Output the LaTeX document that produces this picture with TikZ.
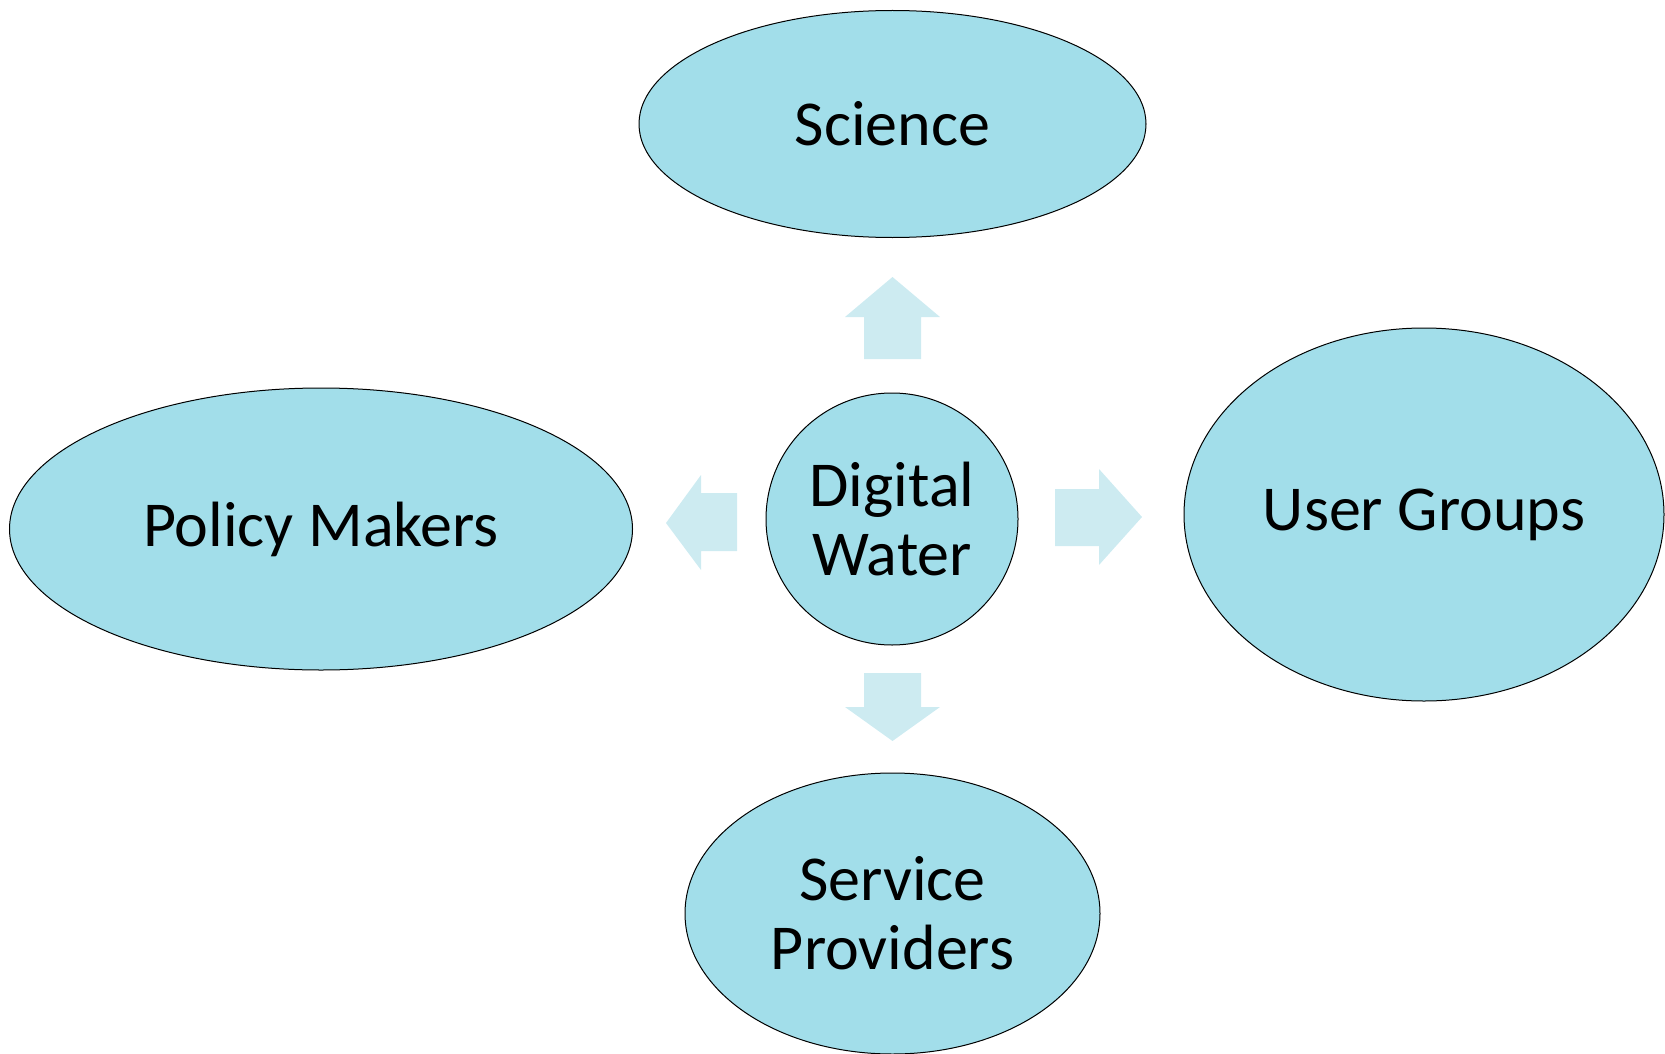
\documentclass[tikz,border=0pt]{standalone}
\usepackage{fontspec}
\setmainfont{Carlito}
\usetikzlibrary{shapes.geometric}
\definecolor{bubble}{RGB}{162,222,234}
\definecolor{flow}{RGB}{205,235,241}

\begin{document}
\begin{tikzpicture}[x=1pt,y=-1pt,
  group/.style={ellipse,draw=black,line width=1pt,fill=bubble,inner sep=0pt,
    align=center,font=\fontsize{64}{69}\selectfont},
  flowarrow/.style={fill=flow}]
\useasboundingbox (0,0) rectangle (1665,1054);
% stakeholders
\node[group,minimum width=507pt,minimum height=227pt] (science) at (892.5,124) {Science};
\node[group,minimum width=480pt,minimum height=373pt] (users) at (1424,514.5) {User Groups};
\node[group,minimum width=623pt,minimum height=282pt] (policy) at (321,529) {Policy Makers};
\node[group,minimum width=415pt,minimum height=281pt] (service) at (892.5,913.5) {Service\\Providers};
% centre
\node[group,minimum width=252pt,minimum height=252pt] (water) at (892,519) {Digital\\Water};
% arrows
\fill[flowarrow] (864,359) -- (864,317) -- (845,317) -- (892.5,277) -- (940,317) -- (921,317) -- (921,359) -- cycle;
\fill[flowarrow] (864,673) -- (864,707) -- (845,707) -- (892.5,741) -- (940,707) -- (921,707) -- (921,673) -- cycle;
\fill[flowarrow] (1055,489) -- (1099,489) -- (1099,469) -- (1142,517) -- (1099,565) -- (1099,546) -- (1055,546) -- cycle;
\fill[flowarrow] (737,493) -- (701,493) -- (701,475) -- (666,523) -- (701,570) -- (701,551) -- (737,551) -- cycle;
\end{tikzpicture}
\end{document}
